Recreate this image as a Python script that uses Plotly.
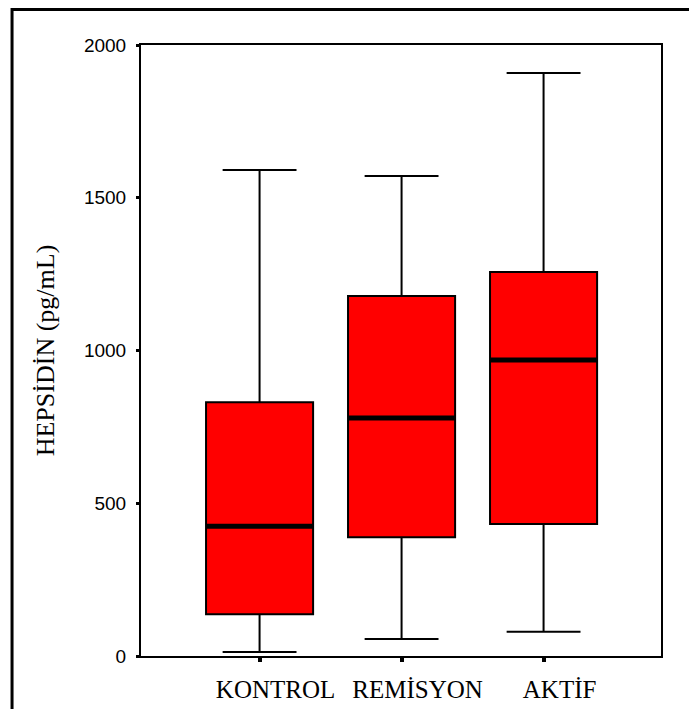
import plotly.graph_objects as go

categories = ["KONTROL", "REMİSYON", "AKTİF"]
lower_whisker = [13, 56, 79]
q1_values = [137, 389, 432]
median_values = [425, 779, 969]
q3_values = [831, 1178, 1257]
upper_whisker = [1591, 1571, 1908]
y_ticks = [0, 500, 1000, 1500, 2000]

positions = list(range(len(categories)))
box_w = 0.754

fig = go.Figure()
fig.add_trace(go.Box(
    x=positions,
    q1=q1_values, median=median_values, q3=q3_values,
    lowerfence=lower_whisker, upperfence=upper_whisker,
    width=box_w, whiskerwidth=0.69,
    fillcolor="#FF0000",
    line=dict(color="black", width=2),
    boxpoints=False, hoverinfo="skip", showlegend=False,
))

mx, my = [], []
for p, m in zip(positions, median_values):
    mx += [p - box_w / 2, p + box_w / 2, None]
    my += [m, m, None]
fig.add_trace(go.Scatter(x=mx, y=my, mode="lines",
                         line=dict(color="black", width=5),
                         hoverinfo="skip", showlegend=False))

fig.update_layout(
    width=689, height=701,
    margin=dict(l=133, r=36, t=37, b=53, autoexpand=False),
    paper_bgcolor="white", plot_bgcolor="white",
    xaxis=dict(
        automargin=False,
        range=[-0.835, 2.827], tickvals=positions, ticktext=categories,
        showgrid=False, zeroline=False,
        showline=True, linecolor="black", linewidth=2, mirror=True,
        ticks="outside", ticklen=4, tickwidth=4, tickcolor="black",
        tickfont=dict(family="Liberation Serif", size=25, color="black"),
        ticklabelshift=16, ticklabelstandoff=6,
    ),
    yaxis=dict(
        automargin=False,
        range=[0, 2000], tickvals=y_ticks,
        showgrid=False, zeroline=False,
        showline=True, linecolor="black", linewidth=2, mirror=True,
        ticks="outside", ticklen=3, tickwidth=3, tickcolor="black",
        tickfont=dict(family="Liberation Sans", size=19, color="black"),
        ticklabelstandoff=6,
        title=dict(text="HEPSİDİN (pg/mL)",
                   font=dict(family="Liberation Serif", size=26, color="black"),
                   standoff=22),
    ),
    shapes=[dict(type="rect", xref="paper", yref="paper",
                 x0=-0.248, x1=1.3, y0=-0.3, y1=1.058,
                 line=dict(color="black", width=3), layer="above")],
)

fig.write_html("out.html")
